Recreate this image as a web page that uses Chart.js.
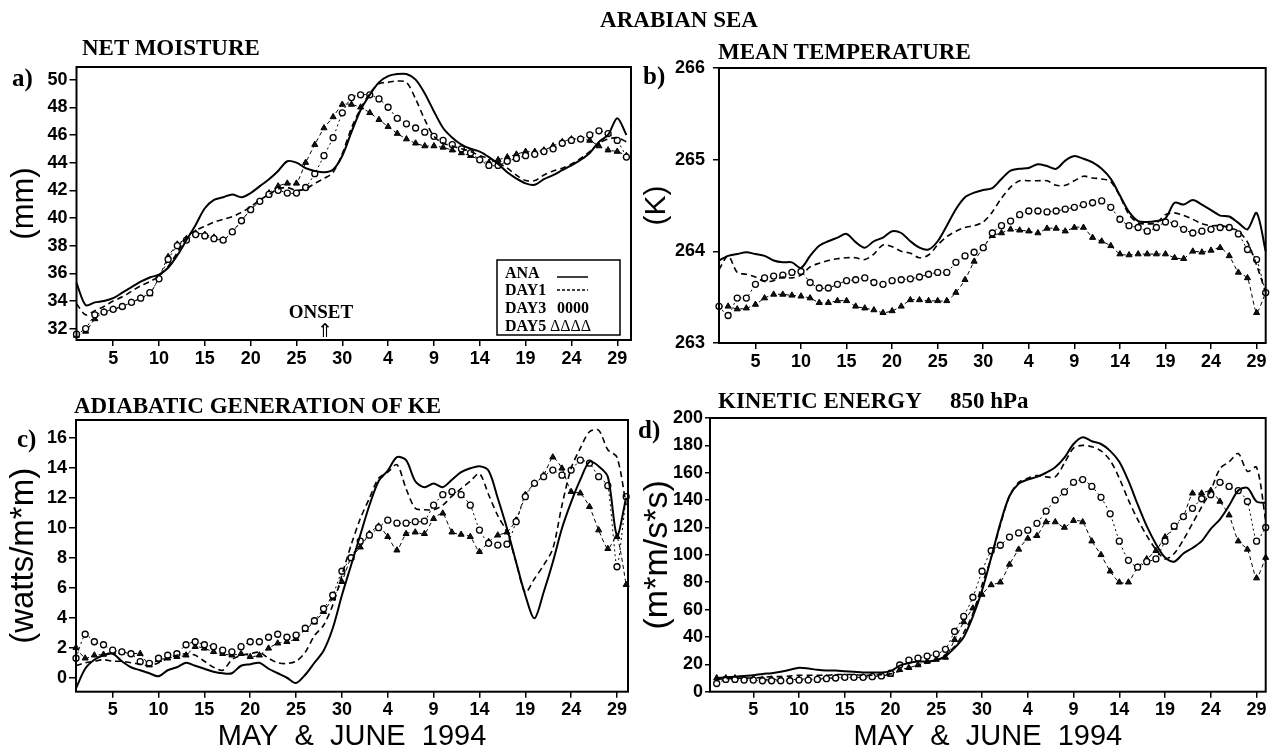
<!DOCTYPE html>
<html><head><meta charset="utf-8">
<script src="https://cdn.jsdelivr.net/npm/chart.js@4.4.1/dist/chart.umd.min.js"></script>
<style>
html,body{margin:0;padding:0;background:#fff;overflow:hidden;width:1271px;height:752px;}
.panel{position:absolute;}
#ov{position:absolute;left:0;top:0;pointer-events:none;}
#ov text{font-family:"Liberation Serif","Times New Roman",serif;font-weight:bold;fill:#000;}
</style></head><body>
<div class="panel" style="left:9px;top:47px;width:632px;height:328px"><canvas id="ca"></canvas></div>
<div class="panel" style="left:642px;top:48px;width:629px;height:330px"><canvas id="cb"></canvas></div>
<div class="panel" style="left:7px;top:400px;width:631px;height:351px"><canvas id="cc"></canvas></div>
<div class="panel" style="left:641px;top:398px;width:630px;height:353px"><canvas id="cd"></canvas></div>
<svg id="ov" width="1271" height="752">
  <text x="679" y="27" font-size="23" text-anchor="middle">ARABIAN SEA</text>
  <text x="82" y="55" font-size="23">NET MOISTURE</text>
  <text x="718" y="59" font-size="23">MEAN TEMPERATURE</text>
  <text x="74" y="413" font-size="23">ADIABATIC GENERATION OF KE</text>
  <text x="718" y="408" font-size="23">KINETIC ENERGY</text>
  <text x="950" y="408" font-size="23">850 hPa</text>
  <text x="12" y="86" font-size="25">a)</text>
  <text x="643" y="84" font-size="25">b)</text>
  <text x="17" y="447" font-size="25">c)</text>
  <text x="638" y="438" font-size="25">d)</text>
  <rect x="497" y="260" width="123" height="75" fill="#fff" stroke="#000" stroke-width="1.5"/>
  <text x="505" y="278" font-size="16">ANA</text>
  <line x1="557" y1="277" x2="588" y2="277" stroke="#000" stroke-width="1.5"/>
  <text x="505" y="295" font-size="16">DAY1</text>
  <line x1="557" y1="290" x2="588" y2="290" stroke="#000" stroke-width="1.5" stroke-dasharray="3,2"/>
  <text x="505" y="313" font-size="16">DAY3</text>
  <text x="557" y="313" font-size="16">0000</text>
  <text x="505" y="331" font-size="16">DAY5</text>
  <text x="550" y="331" font-size="16" style="font-weight:normal">ΔΔΔΔ</text>
</svg>
<script>
// ---- categories / ticks ----
const mayDays = Array.from({length:31},(_,i)=>i+1);
const juneDays = Array.from({length:30},(_,i)=>i+1);
const dayLabels = mayDays.map(d=>'May '+d).concat(juneDays.map(d=>'June '+d));
const xTickIdx = [4,9,14,19,24,29,34,39,44,49,54,59];
const xTickLabels = ['5','10','15','20','25','30','4','9','14','19','24','29'];
const onsetIndex = 27; // May 28
const yTicksA = [32,34,36,38,40,42,44,46,48,50];
const yTicksB = [263,264,265,266];
const yTicksC = [0,2,4,6,8,10,12,14,16];
const yTicksD = [0,20,40,60,80,100,120,140,160,180,200];

// ---- a) NET MOISTURE (mm) ----
const anaA = [35.3,33.7,33.9,34.0,34.2,34.6,35.0,35.4,35.7,35.9,
  36.4,37.3,38.4,39.5,40.7,41.3,41.5,41.7,41.5,41.8,
  42.3,42.8,43.4,44.1,44.0,43.6,43.4,43.3,43.5,44.5,
  46.2,47.8,48.9,49.8,50.25,50.4,50.4,50.0,49.0,47.7,
  46.5,45.8,45.3,45.0,44.8,44.4,43.9,43.3,42.85,42.5,
  42.4,42.8,43.1,43.45,43.8,44.2,44.7,45.5,46.0,47.2,46.0];
const day1A = [33.8,33.0,33.3,33.6,34.0,34.3,34.7,35.1,35.4,35.8,
  36.5,37.5,38.6,39.1,39.4,39.7,39.9,40.1,40.4,40.8,
  41.3,41.7,42.1,42.2,42.0,42.1,42.5,42.85,43.3,44.65,
  46.5,47.9,49.0,49.7,49.8,49.9,49.8,48.6,47.1,45.9,
  45.4,45.2,45.0,44.8,44.5,44.3,44.0,43.6,43.1,42.7,
  42.7,43.1,43.4,43.6,43.9,44.3,44.8,45.4,45.7,45.8,45.5];
const day3A = [31.6,32.0,33.0,33.2,33.4,33.6,33.9,34.2,34.6,35.6,
  37.0,38.0,38.4,38.8,38.7,38.5,38.4,39.0,39.8,40.6,
  41.2,41.7,42.0,41.8,41.8,42.2,43.2,44.5,45.8,47.6,
  48.7,48.9,48.9,48.6,48.0,47.2,46.8,46.5,46.2,45.9,
  45.6,45.3,45.0,44.7,44.2,43.8,43.8,44.1,44.3,44.5,
  44.6,44.8,45.0,45.4,45.6,45.7,46.0,46.3,46.1,45.6,44.4];
const day5A = [31.5,31.8,32.7,33.2,33.4,33.6,33.9,34.2,34.5,35.7,
  37.2,38.1,38.5,38.9,38.8,38.6,38.4,39.0,39.8,40.6,
  41.2,41.8,42.3,42.5,42.5,44.0,45.3,46.5,47.3,48.2,
  48.2,48.0,47.6,47.1,46.6,46.1,45.7,45.4,45.2,45.2,
  45.1,44.9,44.7,44.5,44.2,44.0,44.2,44.4,44.6,44.8,
  44.8,44.9,45.2,45.5,45.7,45.7,45.6,45.2,44.9,44.8,44.5];

// ---- b) MEAN TEMPERATURE (K) ----
const anaB = [263.90,263.95,263.97,263.99,263.97,263.95,263.90,263.88,263.88,263.82,
  263.95,264.06,264.11,264.15,264.19,264.10,264.04,264.11,264.15,264.22,
  264.20,264.11,264.04,264.02,264.11,264.28,264.46,264.59,264.64,264.67,
  264.69,264.79,264.88,264.90,264.91,264.95,264.93,264.90,264.99,265.04,
  265.01,264.97,264.90,264.79,264.61,264.43,264.33,264.32,264.33,264.36,
  264.53,264.51,264.56,264.51,264.45,264.39,264.38,264.31,264.24,264.42,264.00];
const day1B = [263.80,263.95,263.77,263.75,263.72,263.67,263.68,263.72,263.71,263.74,
  263.83,263.87,263.90,263.92,263.93,263.93,263.91,263.97,264.07,264.05,
  264.00,263.98,263.93,263.96,264.07,264.16,264.22,264.26,264.28,264.32,
  264.43,264.58,264.70,264.77,264.77,264.77,264.77,264.72,264.72,264.77,
  264.82,264.80,264.79,264.76,264.60,264.40,264.31,264.30,264.31,264.40,
  264.42,264.39,264.35,264.30,264.28,264.28,264.26,264.22,264.10,263.85,263.55];
const day3B = [263.40,263.30,263.49,263.49,263.64,263.71,263.73,263.74,263.77,263.78,
  263.66,263.60,263.60,263.64,263.68,263.69,263.71,263.66,263.64,263.68,
  263.69,263.70,263.72,263.75,263.77,263.77,263.88,263.95,263.99,264.04,
  264.20,264.28,264.33,264.40,264.44,264.44,264.43,264.44,264.46,264.48,
  264.51,264.53,264.55,264.48,264.35,264.28,264.26,264.22,264.26,264.32,
  264.30,264.24,264.20,264.22,264.24,264.26,264.26,264.19,264.02,263.91,263.55];
const day5B = [263.40,263.40,263.37,263.38,263.42,263.49,263.53,263.53,263.52,263.51,
  263.49,263.44,263.44,263.46,263.46,263.40,263.38,263.36,263.33,263.35,
  263.40,263.47,263.47,263.46,263.46,263.46,263.55,263.69,263.89,264.04,
  264.17,264.20,264.24,264.23,264.22,264.20,264.25,264.25,264.22,264.26,
  264.26,264.15,264.11,264.06,263.97,263.96,263.97,263.97,263.97,263.97,
  263.93,263.92,264.00,263.99,264.01,264.04,263.95,263.77,263.71,263.33,263.55];

// ---- c) ADIABATIC GENERATION OF KE (watts/m*m) ----
const anaC = [-0.7,0.6,1.2,1.5,1.6,1.1,0.7,0.5,0.3,0.1,
  0.5,0.7,1.0,0.8,0.6,0.4,0.3,0.3,0.8,0.9,
  1.0,0.6,0.3,0.0,-0.35,0.2,1.0,1.8,3.3,5.5,
  7.5,9.5,11.5,13.1,13.8,14.7,14.5,13.1,12.7,12.95,
  12.7,13.2,13.7,13.96,14.1,13.8,11.96,9.96,7.7,5.5,
  3.96,5.7,7.7,9.96,11.7,13.2,14.4,14.1,13.4,9.5,12.0];
const day1C = [0.8,1.0,1.1,1.2,1.1,1.1,1.0,0.9,0.8,1.0,
  1.3,1.5,1.6,1.5,1.1,0.7,0.5,1.2,1.5,1.6,
  1.7,1.3,1.0,0.95,1.1,1.7,2.8,3.5,4.84,6.84,
  8.84,10.6,11.96,13.3,13.7,14.2,12.6,11.3,11.2,11.2,
  11.5,12.1,12.6,13.1,13.6,12.2,10.8,9.7,7.7,5.7,
  6.6,7.5,8.6,11.5,13.96,15.3,16.4,16.5,15.2,14.7,11.5];
const day3C = [1.3,2.9,2.4,2.2,1.84,1.73,1.6,1.07,0.96,1.3,
  1.5,1.6,2.2,2.4,2.2,2.07,1.84,1.73,2.07,2.4,
  2.4,2.7,2.9,2.7,2.84,3.3,3.8,4.6,5.5,7.1,
  8.0,9.1,9.5,10.0,10.5,10.3,10.3,10.4,10.44,11.5,
  12.2,12.4,12.2,11.5,9.84,8.96,8.84,8.9,10.4,12.07,
  12.96,13.4,13.84,13.5,13.84,14.5,14.3,13.4,12.8,7.4,12.07];
const day5C = [2.0,1.3,1.5,1.55,1.73,1.7,1.6,1.6,0.84,1.2,
  1.3,1.4,1.5,2.07,1.96,1.73,1.6,1.5,1.6,1.4,
  1.5,1.96,2.3,2.4,2.6,3.2,3.7,4.4,5.3,6.4,
  8.0,8.7,9.6,10.1,9.4,8.5,9.6,9.7,9.6,10.6,
  10.96,9.7,9.55,9.4,8.4,9.07,9.5,9.7,10.5,12.2,
  12.96,13.5,14.7,13.96,12.4,12.3,11.4,9.84,8.6,9.4,6.2];

// ---- d) KINETIC ENERGY 850 hPa (m*m/s*s) ----
const anaD = [10,10.5,11,11.5,12,13,13.5,14.5,16,17.5,
  17,16,15.5,15.5,15,14.5,14,14,14,15,
  19,21,22,22,23,26,32,40,55,74,
  98,123,143,152,155,157,160,164,171,181,
  186,183,181,176,168,154,137,121,108,98,
  95,101,105,110,119,126,136,147,149,139,138];
const day1D = [9,9.5,10,10,10,10.5,11,11,11.5,12,
  12,12,12,12.5,12.5,12.5,12,12,12.5,13,
  15,17,19,21,23,27,33,43,57,78,
  98,122,143,153,156,158,157,157,167,178,
  180,179,176,169,156,140,126,114,104,97,
  101,111,123,135,147,163,168,174,161,164,125];
const day3D = [6,9,9,8.5,8.5,8,8,8,8,8.5,
  8.5,9,9.5,10,10.5,10.5,10.5,11,11.5,13.5,
  19.5,23,24.5,26,27.5,31,44,55,69,88,
  103,107,113,116,118,123,132,140,146,153,
  155,150,142,130,110,96,91,95,97,110,
  121,128,134,141,144,153,150,147,139,110,120];
const day5D = [10,10,10,9.5,9.5,9,9,9,9,9,
  9.5,9.5,10,10,10.5,10.5,10.5,11,11.5,12.5,
  16,17.5,19.5,22,23.5,25,38,51,61,71,
  78,80,93,104,112,114,124,124,120,125,
  124,110,100,88,80,80,91,97,103,113,
  120,128,145,145,147,139,129,110,104,83,98];

Chart.defaults.animation = false;
Chart.defaults.color = '#000';
Chart.defaults.font.family = '"Liberation Sans", Arial, sans-serif';

function pts(arr){ return arr.map((v,i)=>({x:i, y:v})); }

const boxPlugin = {
  id:'box',
  afterDatasetsDraw(chart){
    const {ctx, chartArea:a} = chart;
    ctx.save(); ctx.strokeStyle='#000'; ctx.lineWidth=2;
    ctx.strokeRect(a.left, a.top, a.right-a.left, a.bottom-a.top);
    ctx.restore();
  }
};
const onsetPlugin = {
  id:'onset',
  afterDraw(chart){
    const {ctx, chartArea:a} = chart;
    const x = chart.scales.x.getPixelForValue(onsetIndex);
    ctx.save(); ctx.fillStyle='#000'; ctx.textAlign='center'; ctx.textBaseline='alphabetic';
    ctx.font = 'bold 19px "Liberation Serif", serif';
    ctx.fillText('ONSET', x-3, a.bottom-22);
    ctx.font = '19px "DejaVu Sans", sans-serif';
    ctx.fillText('\u21D1', x+1, a.bottom-3);
    ctx.restore();
  }
};

function makePanel(id, o){
  const tickFont = {family:'"Liberation Sans", Arial, sans-serif', weight:'bold', size:18};
  const xTitleFont = {family:'"Liberation Sans", Arial, sans-serif', size:29, lineHeight:1};
  const yTitleFont = {family:'"Liberation Sans", Arial, sans-serif', size:o.yTitleSize, lineHeight:1};
  const datasets = [
    {label:'ANA', data:pts(o.ana), borderColor:'#000', borderWidth:2, pointRadius:0, tension:0.3, clip:false},
    {label:'DAY1', data:pts(o.d1), borderColor:'#000', borderWidth:1.6, borderDash:[6,4], pointRadius:0, tension:0.3, clip:false},
    {label:'DAY3', data:pts(o.d3), borderColor:'#000', borderWidth:1, borderDash:[2,3], pointStyle:'circle', pointRadius:3, pointBorderWidth:1.3, pointBackgroundColor:'#fff', pointBorderColor:'#000', tension:0.2, clip:false},
    {label:'DAY5', data:pts(o.d5), borderColor:'#000', borderWidth:1, borderDash:[4,3], pointStyle:'triangle', pointRadius:3.5, pointBorderWidth:1, pointBackgroundColor:'#111', pointBorderColor:'#000', tension:0.2, clip:false}
  ];
  return new Chart(document.getElementById(id), {
    type:'line',
    data:{datasets},
    options:{
      responsive:true, maintainAspectRatio:false, devicePixelRatio:1,
      layout:{padding:{top:20, right:o.padR, left:0, bottom:0}},
      plugins:{legend:{display:false}, tooltip:{enabled:false}, title:{display:false}},
      scales:{
        x:{type:'linear', min:o.xmin, max:o.xmax,
          afterBuildTicks:s=>{ s.ticks = xTickIdx.map(v=>({value:v})); },
          afterFit:s=>{ s.height = o.hx; },
          ticks:{font:tickFont, color:'#000', padding:2, maxRotation:0, autoSkip:false,
            callback:(v,i)=>xTickLabels[i]},
          grid:{display:true, drawOnChartArea:false, drawTicks:true, tickLength:6, color:'#000', lineWidth:1.5},
          border:{display:false},
          title: o.xTitle ? {display:true, text:'MAY  &  JUNE  1994', font:xTitleFont, color:'#000', padding:0} : {display:false}
        },
        y:{type:'linear', min:o.ymin, max:o.ymax,
          afterBuildTicks:s=>{ s.ticks = o.yTicks.map(v=>({value:v})); },
          afterFit:s=>{ s.width = o.wy; },
          ticks:{font:tickFont, color:'#000', padding:o.yPad, autoSkip:false, callback:v=>String(v)},
          grid:{display:true, drawOnChartArea:false, drawTicks:true, tickLength:o.yTick, color:'#000', lineWidth:1.5},
          border:{display:false},
          title:{display:true, text:o.yTitle, font:yTitleFont, color:'#000', padding:0}
        }
      }
    },
    plugins: o.onset ? [boxPlugin, onsetPlugin] : [boxPlugin]
  });
}

makePanel('ca', {ana:anaA, d1:day1A, d3:day3A, d5:day5A, xmin:0, xmax:60.5, ymin:31.18, ymax:50.91,
  yTicks:yTicksA, yTitle:'(mm)', yTitleSize:31, wy:67.5, hx:35, padR:10, yPad:2, yTick:7, xTitle:false, onset:true});
makePanel('cb', {ana:anaB, d1:day1B, d3:day3B, d5:day5B, xmin:0, xmax:60.0, ymin:263, ymax:266,
  yTicks:yTicksB, yTitle:'(K)', yTitleSize:30, wy:77, hx:35, padR:3, yPad:8, yTick:6, xTitle:false});
makePanel('cc', {ana:anaC, d1:day1C, d3:day3C, d5:day5C, xmin:0, xmax:60.2, ymin:-0.93, ymax:17.18,
  yTicks:yTicksC, yTitle:'(watts/m*m)', yTitleSize:33, wy:69, hx:59.3, padR:10, yPad:2, yTick:7, xTitle:true});
makePanel('cd', {ana:anaD, d1:day1D, d3:day3D, d5:day5D, xmin:-0.73, xmax:60.0, ymin:0, ymax:200,
  yTicks:yTicksD, yTitle:'(m*m/s*s)', yTitleSize:34, wy:69, hx:59.3, padR:5, yPad:2, yTick:5, xTitle:true});
</script>
</body></html>
